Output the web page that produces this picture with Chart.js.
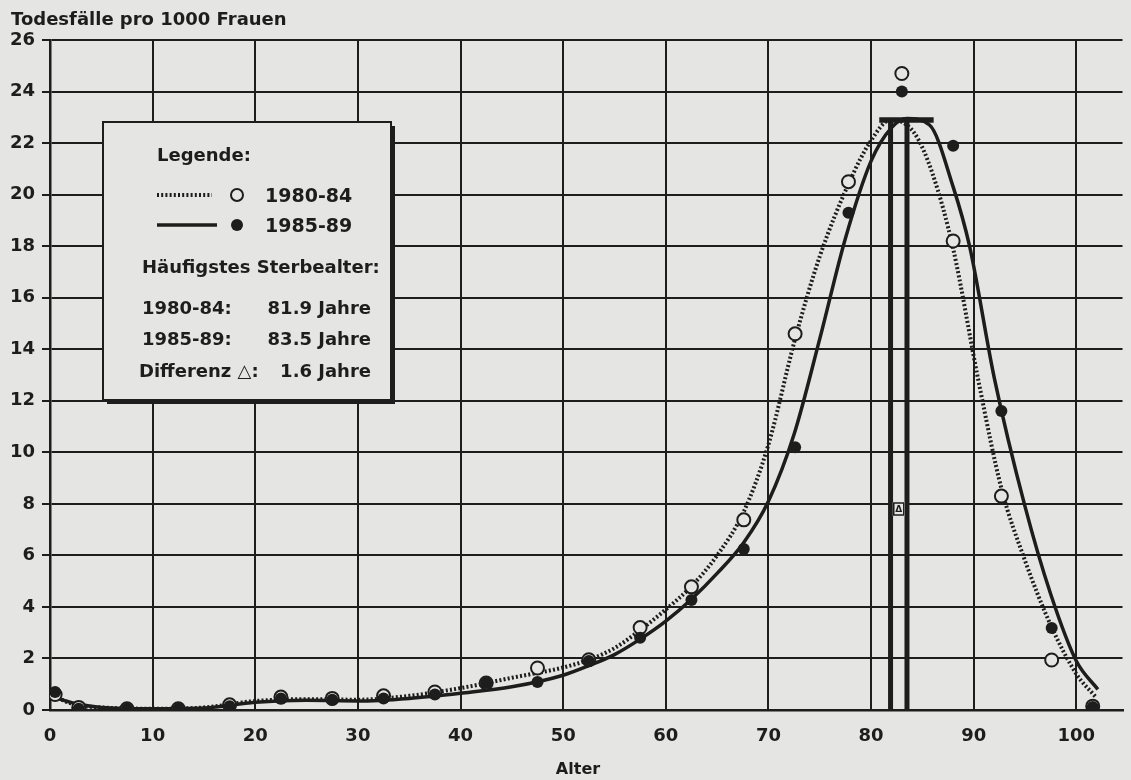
<!DOCTYPE html>
<html><head><meta charset="utf-8">
<script src="https://cdn.jsdelivr.net/npm/chart.js@4/dist/chart.umd.min.js"></script>
<style>html,body{margin:0;padding:0;background:#e5e5e3;}#wrap{width:1131px;height:780px;position:relative;}</style>
</head><body><div id="wrap"><canvas id="c" width="1131" height="780"></canvas></div>
<script>
// ---- data ----
const pointAges = [0.5, 2.8, 7.5, 12.5, 17.5, 22.5, 27.5, 32.5, 37.5, 42.5, 47.5, 52.5, 57.5, 62.5, 67.6, 72.6, 77.8, 83.0, 88.0, 92.7, 97.6, 101.6];
const deaths8084 = [0.6, 0.1, 0.05, 0.05, 0.2, 0.5, 0.45, 0.55, 0.7, 1.05, 1.63, 1.95, 3.2, 4.78, 7.38, 14.6, 20.5, 24.7, 18.2, 8.3, 1.94, 0.15];
const deaths8589 = [0.7, 0.05, 0.05, 0.05, 0.15, 0.45, 0.4, 0.45, 0.6, 1.05, 1.09, 1.9, 2.8, 4.27, 6.25, 10.2, 19.3, 24.0, 21.9, 11.6, 3.18, 0.12];

const curveAges8084 = [0, 2.5, 5, 10, 15, 20, 25, 30, 35, 40, 45, 50, 52.5, 55, 57.5, 60, 62.5, 65, 67.6, 70, 72.6, 75, 77.9, 80, 81.9, 84.2, 86, 88, 90.5, 92.7, 95, 97.5, 100, 101.9];
const curve8084     = [0.6, 0.2, 0.1, 0.05, 0.1, 0.35, 0.42, 0.4, 0.55, 0.85, 1.25, 1.65, 1.95, 2.4, 3.1, 3.9, 4.8, 6.0, 7.7, 10.3, 14.4, 17.6, 20.5, 22.1, 22.9, 22.4, 20.8, 17.9, 12.7, 8.6, 5.8, 3.3, 1.4, 0.5];
const curveAges8589 = [0, 2.5, 5, 10, 15, 20, 25, 30, 35, 40, 45, 50, 52.5, 55, 57.5, 60, 62.5, 65, 67.6, 70, 72.5, 75, 77.5, 80, 82, 83.5, 85.7, 88, 89.6, 92, 95, 97.5, 100, 102.1];
const curve8589     = [0.55, 0.25, 0.1, 0.05, 0.08, 0.3, 0.38, 0.35, 0.45, 0.65, 0.9, 1.35, 1.72, 2.15, 2.75, 3.45, 4.3, 5.3, 6.5, 8.1, 10.7, 14.4, 18.3, 21.3, 22.6, 22.95, 22.7, 20.3, 18.0, 12.9, 7.9, 4.5, 1.9, 0.8];

const modalAges = [81.9, 83.5];      // häufigstes Sterbealter
const modalLevel = 22.9;
const capRange = [80.8, 86.1];
const deltaMark = {x: 82.7, y: 7.8};

const xTickValues = [0, 10, 20, 30, 40, 50, 60, 70, 80, 90, 100];
const yTickValues = [0, 2, 4, 6, 8, 10, 12, 14, 16, 18, 20, 22, 24, 26];

const yTitle = 'Todesfälle pro 1000 Frauen';
const xTitle = 'Alter';
const seriesNames = ['1980-84', '1985-89'];
const legendTitle = 'Legende:';
const modeTitle = 'Häufigstes Sterbealter:';
const modeRows = [['1980-84:', '81.9 Jahre'], ['1985-89:', '83.5 Jahre'], ['Differenz △:', '1.6 Jahre']];

// ---- styling ----
const INK = '#1d1d1d';
const BG = '#e5e5e3';
const FONT = '"DejaVu Sans", sans-serif';

const zip = (xs, ys) => xs.map((x, i) => ({x, y: ys[i]}));

const datasets = [
  {label: seriesNames[0] + ' Punkte', data: zip(pointAges, deaths8084), showLine: false,
   pointRadius: 6.5, pointBorderWidth: 2, pointBorderColor: INK, pointBackgroundColor: BG, order: 1},
  {label: seriesNames[1] + ' Punkte', data: zip(pointAges, deaths8589), showLine: false,
   pointRadius: 6, pointBorderWidth: 0, pointBorderColor: INK, pointBackgroundColor: INK, order: 0},
  {label: seriesNames[0], data: zip(curveAges8084, curve8084), showLine: true, pointRadius: 0,
   borderColor: INK, borderWidth: 4, borderDash: [2, 2.2], cubicInterpolationMode: 'monotone', order: 3},
  {label: seriesNames[1], data: zip(curveAges8589, curve8589), showLine: true, pointRadius: 0,
   borderColor: INK, borderWidth: 3.5, cubicInterpolationMode: 'monotone', order: 2},
  {label: 'Modus 1980-84', data: [{x: modalAges[0], y: 0}, {x: modalAges[0], y: modalLevel}], showLine: true,
   pointRadius: 0, borderColor: INK, borderWidth: 5, order: 4},
  {label: 'Modus 1985-89', data: [{x: modalAges[1], y: 0}, {x: modalAges[1], y: modalLevel}], showLine: true,
   pointRadius: 0, borderColor: INK, borderWidth: 5, order: 4},
  {label: 'Kappe', data: [{x: capRange[0], y: modalLevel}, {x: capRange[1], y: modalLevel}], showLine: true,
   pointRadius: 0, borderColor: INK, borderWidth: 5.5, order: 4}
];

const bgPlugin = {
  id: 'bg',
  beforeDraw(chart) {
    const ctx = chart.ctx;
    ctx.save(); ctx.fillStyle = BG; ctx.fillRect(0, 0, chart.width, chart.height); ctx.restore();
  }
};

const decoPlugin = {
  id: 'deco',
  afterDatasetsDraw(chart) {
    const ctx = chart.ctx;
    const xs = chart.scales.x, ys = chart.scales.y;
    ctx.save();
    ctx.fillStyle = INK;
    ctx.strokeStyle = INK;
    // axis titles
    ctx.font = 'bold 18px ' + FONT;
    ctx.textAlign = 'left'; ctx.textBaseline = 'alphabetic';
    ctx.fillText(yTitle, 11, 25);
    ctx.font = 'bold 16px ' + FONT;
    ctx.textAlign = 'center';
    ctx.fillText(xTitle, 578, 774);

    // delta marker between the modal lines
    const dx = xs.getPixelForValue(deltaMark.x), dy = ys.getPixelForValue(deltaMark.y);
    ctx.fillStyle = BG;
    ctx.fillRect(dx - 6, dy - 7, 12, 14);
    ctx.lineWidth = 1.5;
    ctx.strokeRect(dx - 5, dy - 6, 10, 12);
    ctx.fillStyle = INK;
    ctx.font = 'bold 9px ' + FONT;
    ctx.textAlign = 'center'; ctx.textBaseline = 'middle';
    ctx.fillText('Δ', dx, dy + 1);

    // legend box with shadow
    const L = 103, T = 122, R = 391, B = 400;
    ctx.fillStyle = INK;
    ctx.fillRect(L + 4, T + 4, R - L, B - T);
    ctx.fillStyle = BG;
    ctx.fillRect(L, T, R - L, B - T);
    ctx.lineWidth = 2;
    ctx.strokeRect(L, T, R - L, B - T);

    ctx.fillStyle = INK;
    ctx.textBaseline = 'alphabetic';
    ctx.textAlign = 'left';
    ctx.font = 'bold 18px ' + FONT;
    ctx.fillText(legendTitle, 157, 161);
    // dotted sample
    ctx.lineWidth = 4;
    ctx.setLineDash([2, 2.2]);
    ctx.beginPath(); ctx.moveTo(157, 195); ctx.lineTo(212, 195); ctx.stroke();
    ctx.setLineDash([]);
    ctx.lineWidth = 3.5;
    ctx.beginPath(); ctx.moveTo(157, 225); ctx.lineTo(217, 225); ctx.stroke();
    // markers
    ctx.lineWidth = 2;
    ctx.fillStyle = BG;
    ctx.beginPath(); ctx.arc(237, 195, 6, 0, Math.PI * 2); ctx.fill(); ctx.stroke();
    ctx.fillStyle = INK;
    ctx.beginPath(); ctx.arc(237, 225, 6, 0, Math.PI * 2); ctx.fill();
    ctx.font = 'bold 19px ' + FONT;
    ctx.fillText(seriesNames[0], 265, 202);
    ctx.fillText(seriesNames[1], 265, 232);
    ctx.font = 'bold 18px ' + FONT;
    ctx.fillText(modeTitle, 142, 273);
    const rowY = [314, 345, 377];
    modeRows.forEach((r, i) => {
      ctx.textAlign = 'left';
      ctx.fillText(r[0], i === 2 ? 139 : 142, rowY[i]);
      ctx.textAlign = 'right';
      ctx.fillText(r[1], 371, rowY[i]);
    });
    ctx.restore();
  }
};

new Chart(document.getElementById('c'), {
  type: 'scatter',
  data: {datasets},
  options: {
    responsive: false,
    animation: false,
    devicePixelRatio: 1,
    layout: {padding: {top: 40, right: 5, left: 0, bottom: 0}},
    plugins: {legend: {display: false}, tooltip: {enabled: false}, title: {display: false}},
    scales: {
      x: {
        type: 'linear', min: 0, max: 104.5,
        afterBuildTicks: s => { s.ticks = xTickValues.map(v => ({value: v})); },
        afterFit: s => { s.height = 70; },
        grid: {color: INK, lineWidth: 2, drawTicks: false},
        border: {color: INK, width: 2.5},
        ticks: {padding: 16, color: INK, autoSkip: false, maxRotation: 0, font: {family: FONT, size: 18, weight: 'bold'}}
      },
      y: {
        type: 'linear', min: 0, max: 26,
        afterBuildTicks: s => { s.ticks = yTickValues.map(v => ({value: v})); },
        afterFit: s => { s.width = 50; },
        grid: {color: INK, lineWidth: 2, tickLength: 8},
        border: {color: INK, width: 2.5},
        ticks: {padding: 7, color: INK, autoSkip: false, font: {family: FONT, size: 18, weight: 'bold'}}
      }
    }
  },
  plugins: [bgPlugin, decoPlugin]
});
</script></body></html>
